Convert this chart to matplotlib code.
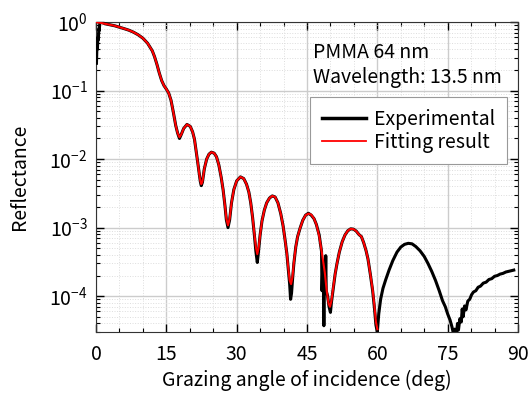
import matplotlib
matplotlib.use("Agg")
import matplotlib.pyplot as plt
from matplotlib.ticker import MultipleLocator, LogLocator, NullFormatter

plt.rcParams['font.family'] = ['Noto Sans CJK JP', 'DejaVu Sans']

# fitting result (red)
fit_angle = [0.2, 1, 2, 3, 4, 5, 6, 7, 8, 9, 10, 11, 12, 12.5, 13, 13.5, 14, 14.5,
             15, 15.5, 16, 16.5, 17, 17.4, 17.8, 18.2, 18.7, 19.4, 20.1, 20.6, 21.0,
             21.4, 21.7, 22.0, 22.25, 22.45, 22.7, 23.1, 23.6, 24.1, 24.6, 25.2, 25.7,
             26.2, 26.7, 27.1, 27.5, 27.8, 28.15, 28.5, 28.9, 29.4, 30.0, 30.8, 31.5,
             32.1, 32.6, 33.0, 33.4, 33.8, 34.1, 34.4, 34.7, 35.0, 35.4, 35.9, 36.4,
             37.0, 37.6, 38.2, 38.8, 39.4, 39.9, 40.3, 40.7, 41.0, 41.3, 41.6, 41.9,
             42.2, 42.6, 43.0, 43.5, 44.1, 44.7, 45.3, 45.9, 46.5, 47.0, 47.6, 48.2,
             48.8, 49.2, 49.6, 49.9, 50.2, 50.6, 51.0, 51.4, 51.9, 52.5, 53.1, 53.7,
             54.3, 54.9, 55.5, 56.1, 56.6, 57.1, 57.6, 58.0, 58.5, 59.0, 59.4, 59.7, 60.0]
fit_refl = [0.99, 0.97, 0.94, 0.91, 0.88, 0.84, 0.80, 0.76, 0.71, 0.65, 0.58, 0.49,
            0.38, 0.31, 0.24, 0.18, 0.14, 0.118, 0.105, 0.092, 0.072, 0.048, 0.031,
            0.024, 0.0208, 0.023, 0.028, 0.032, 0.030, 0.025, 0.0195, 0.0125, 0.0089,
            0.0062, 0.0048, 0.0043, 0.0047, 0.0072, 0.0100, 0.0118, 0.0126, 0.0122,
            0.0108, 0.0082, 0.0054, 0.0036, 0.0021, 0.00135, 0.00108, 0.00135, 0.0023,
            0.0036, 0.0048, 0.0055, 0.0052, 0.0043, 0.0033, 0.0023, 0.0014, 0.00078,
            0.00052, 0.00041, 0.00052, 0.00078, 0.00125, 0.0018, 0.0023, 0.0027,
            0.0029, 0.0028, 0.0023, 0.0016, 0.00106, 0.00068, 0.00042, 0.00026,
            0.00017, 0.00015, 0.00019, 0.00031, 0.00052, 0.00074, 0.00097, 0.00128,
            0.00152, 0.0016, 0.00155, 0.00135, 0.00111, 0.00075, 0.00042, 0.00022,
            0.00012, 7.8e-5, 7.0e-5, 8.5e-5, 1.35e-4, 2.1e-4, 3.0e-4, 4.4e-4, 6.2e-4,
            7.8e-4, 9.0e-4, 9.6e-4, 9.5e-4, 8.9e-4, 7.9e-4, 7.4e-4, 6.0e-4, 4.6e-4,
            3.5e-4, 2.1e-4, 1.25e-4, 7.0e-5, 4.2e-5, 3.3e-5]

# experimental data (black)
exp_angle = [0.1, 0.2, 0.3, 0.4, 0.5, 0.6, 0.7, 0.8, 1.0, 1.5, 2, 3, 4, 5, 6, 7, 8, 9,
             10, 11, 12, 12.5, 13, 13.5, 14, 14.5, 15, 15.5, 16, 16.5, 17, 17.4, 17.8,
             18.2, 18.7, 19.4, 20.1, 20.6, 21.0, 21.4, 21.7, 22.0, 22.25, 22.45, 22.7,
             23.1, 23.6, 24.1, 24.6, 25.2, 25.7, 26.2, 26.7, 27.1, 27.5, 27.8, 28.15,
             28.5, 28.9, 29.4, 30.0, 30.8, 31.5, 32.1, 32.6, 33.0, 33.4, 33.8, 34.1,
             34.4, 34.7, 35.0, 35.4, 35.9, 36.4, 37.0, 37.6, 38.2, 38.8, 39.4, 39.9,
             40.3, 40.7, 41.0, 41.3, 41.5, 41.7, 41.9, 42.2, 42.6, 43.0, 43.5, 44.1,
             44.7, 45.3, 45.9, 46.5, 47.0, 47.6, 48.0, 48.1, 48.2, 48.35, 48.5, 48.6,
             48.7, 48.9, 49.0, 49.1, 49.4, 49.7, 50.0, 50.2, 50.6, 51.0, 51.4, 51.9,
             52.5, 53.1, 53.7, 54.3, 54.9, 55.5, 56.1, 56.6, 57.1, 57.6, 58.0, 58.5,
             59.0, 59.4, 59.7, 60.0, 60.3, 60.7, 61.2, 61.8, 62.5, 63.3, 64.2, 65.0,
             65.8, 66.6, 67.4, 68.2, 69.1, 70.0, 70.8, 71.6, 72.4, 73.2, 73.9, 74.5,
             75.0, 75.5, 75.9, 76.2, 76.5, 76.8, 77.1, 77.3, 77.6, 77.9, 78.1, 78.3,
             78.6, 78.9, 79.3, 79.7, 80.1, 80.5, 81.0, 81.5, 82.0, 82.6, 83.2, 83.8,
             84.4, 85.0, 85.6, 86.2, 86.8, 87.4, 88.0, 88.6, 89.1]
exp_refl = [0.25, 0.45, 0.40, 0.60, 0.55, 0.80, 0.75, 0.95, 1.0, 0.97, 0.94, 0.91,
            0.88, 0.84, 0.80, 0.76, 0.71, 0.65, 0.58, 0.49, 0.38, 0.31, 0.24, 0.18,
            0.14, 0.118, 0.105, 0.092, 0.072, 0.048, 0.031, 0.024, 0.0200, 0.023,
            0.028, 0.032, 0.030, 0.025, 0.0195, 0.0125, 0.0089, 0.0062, 0.0047,
            0.0041, 0.0046, 0.0072, 0.0100, 0.0118, 0.0126, 0.0122, 0.0108, 0.0082,
            0.0054, 0.0036, 0.0021, 0.0013, 0.00100, 0.0013, 0.0023, 0.0036, 0.0048,
            0.0055, 0.0052, 0.0043, 0.0033, 0.0023, 0.0014, 0.00075, 0.00045, 0.00031,
            0.00048, 0.00078, 0.00125, 0.0018, 0.0023, 0.0027, 0.0029, 0.0028, 0.0023,
            0.0016, 0.00106, 0.00068, 0.00042, 0.00025, 0.00015, 0.00009, 0.00011,
            0.00017, 0.0003, 0.00052, 0.00074, 0.00097, 0.00128, 0.00152, 0.00162,
            0.00152, 0.00135, 0.00111, 0.00078, 0.0005, 0.00045, 0.00012, 0.00025,
            0.00015, 3.7e-5, 0.00018, 0.00015, 0.00039, 0.00012, 0.0001, 7.0e-5,
            5.8e-5, 8.0e-5, 1.3e-4, 2.1e-4, 3.0e-4, 4.4e-4, 6.2e-4, 7.8e-4, 9.0e-4,
            9.6e-4, 9.5e-4, 8.9e-4, 7.9e-4, 7.4e-4, 6.0e-4, 4.6e-4, 3.5e-4, 2.1e-4,
            1.2e-4, 6.5e-5, 3.8e-5, 3.0e-5, 5.5e-5, 9.0e-5, 1.3e-4, 1.75e-4, 2.4e-4,
            3.3e-4, 4.4e-4, 5.2e-4, 5.7e-4, 5.9e-4, 5.8e-4, 5.3e-4, 4.6e-4, 3.8e-4,
            3.0e-4, 2.3e-4, 1.7e-4, 1.2e-4, 8.6e-5, 7.0e-5, 5.5e-5, 4.5e-5, 3.6e-5,
            2.9e-5, 3.3e-5, 2.6e-5, 4.0e-5, 3.2e-5, 4.7e-5, 4.2e-5, 6.5e-5, 5.0e-5,
            7.2e-5, 6.3e-5, 8.5e-5, 9.0e-5, 1.05e-4, 1.15e-4, 1.2e-4, 1.35e-4, 1.4e-4,
            1.55e-4, 1.6e-4, 1.75e-4, 1.8e-4, 1.95e-4, 2.0e-4, 2.1e-4, 2.15e-4, 2.25e-4,
            2.3e-4, 2.35e-4, 2.4e-4]

x_ticks = [0, 15, 30, 45, 60, 75, 90]

fig = plt.figure(figsize=(5.32, 3.93), dpi=100)
ax = fig.add_axes([96 / 532, 1 - 332 / 393, 422 / 532, 310 / 393])

ax.plot(exp_angle, exp_refl, color='black', lw=2.2, label='Experimental', zorder=3)
ax.plot(fit_angle, fit_refl, color='#ff0000', lw=1.5, label='Fitting result', zorder=4)

ax.set_yscale('log')
ax.set_xlim(0, 90)
ax.set_ylim(3e-5, 1)
ax.set_xticks(x_ticks)
ax.xaxis.set_minor_locator(MultipleLocator(5))
ax.yaxis.set_minor_locator(LogLocator(base=10, subs=range(2, 10)))
ax.yaxis.set_minor_formatter(NullFormatter())

ax.grid(which='major', color='#cccccc', lw=1.0, ls='-')
ax.grid(which='minor', color='#dddddd', lw=0.7, ls=':')
ax.set_axisbelow(True)

ax.tick_params(which='both', direction='in', top=True, right=True, labelsize=14)
ax.tick_params(which='major', length=6, width=1)
ax.tick_params(which='minor', length=3, width=0.8)
ax.tick_params(axis='x', pad=9)
ax.tick_params(axis='y', pad=6)
for s in ax.spines.values():
    s.set_color('#333333')

ax.set_xlabel('Grazing angle of incidence (deg)', fontsize=14, labelpad=3)
ax.set_ylabel('Reflectance', fontsize=14, labelpad=14)

ax.text(313 / 532, 1 - 52 / 393, 'PMMA 64 nm', transform=fig.transFigure,
        fontsize=14, va='center', ha='left')
ax.text(313 / 532, 1 - 77 / 393, 'Wavelength: 13.5 nm', transform=fig.transFigure,
        fontsize=14, va='center', ha='left')

leg = ax.legend(loc='upper right', bbox_to_anchor=(507 / 532, 1 - 97 / 393),
                bbox_transform=fig.transFigure, borderaxespad=0, fontsize=14,
                fancybox=False, framealpha=1, edgecolor='#999999',
                handlelength=2.3, handletextpad=0.4, labelspacing=0.1,
                borderpad=0.6)
leg.get_frame().set_linewidth(0.8)
leg.get_lines()[0].set_linewidth(2.5)
leg.get_lines()[1].set_linewidth(1.3)

fig.savefig('out.png', dpi=100)
